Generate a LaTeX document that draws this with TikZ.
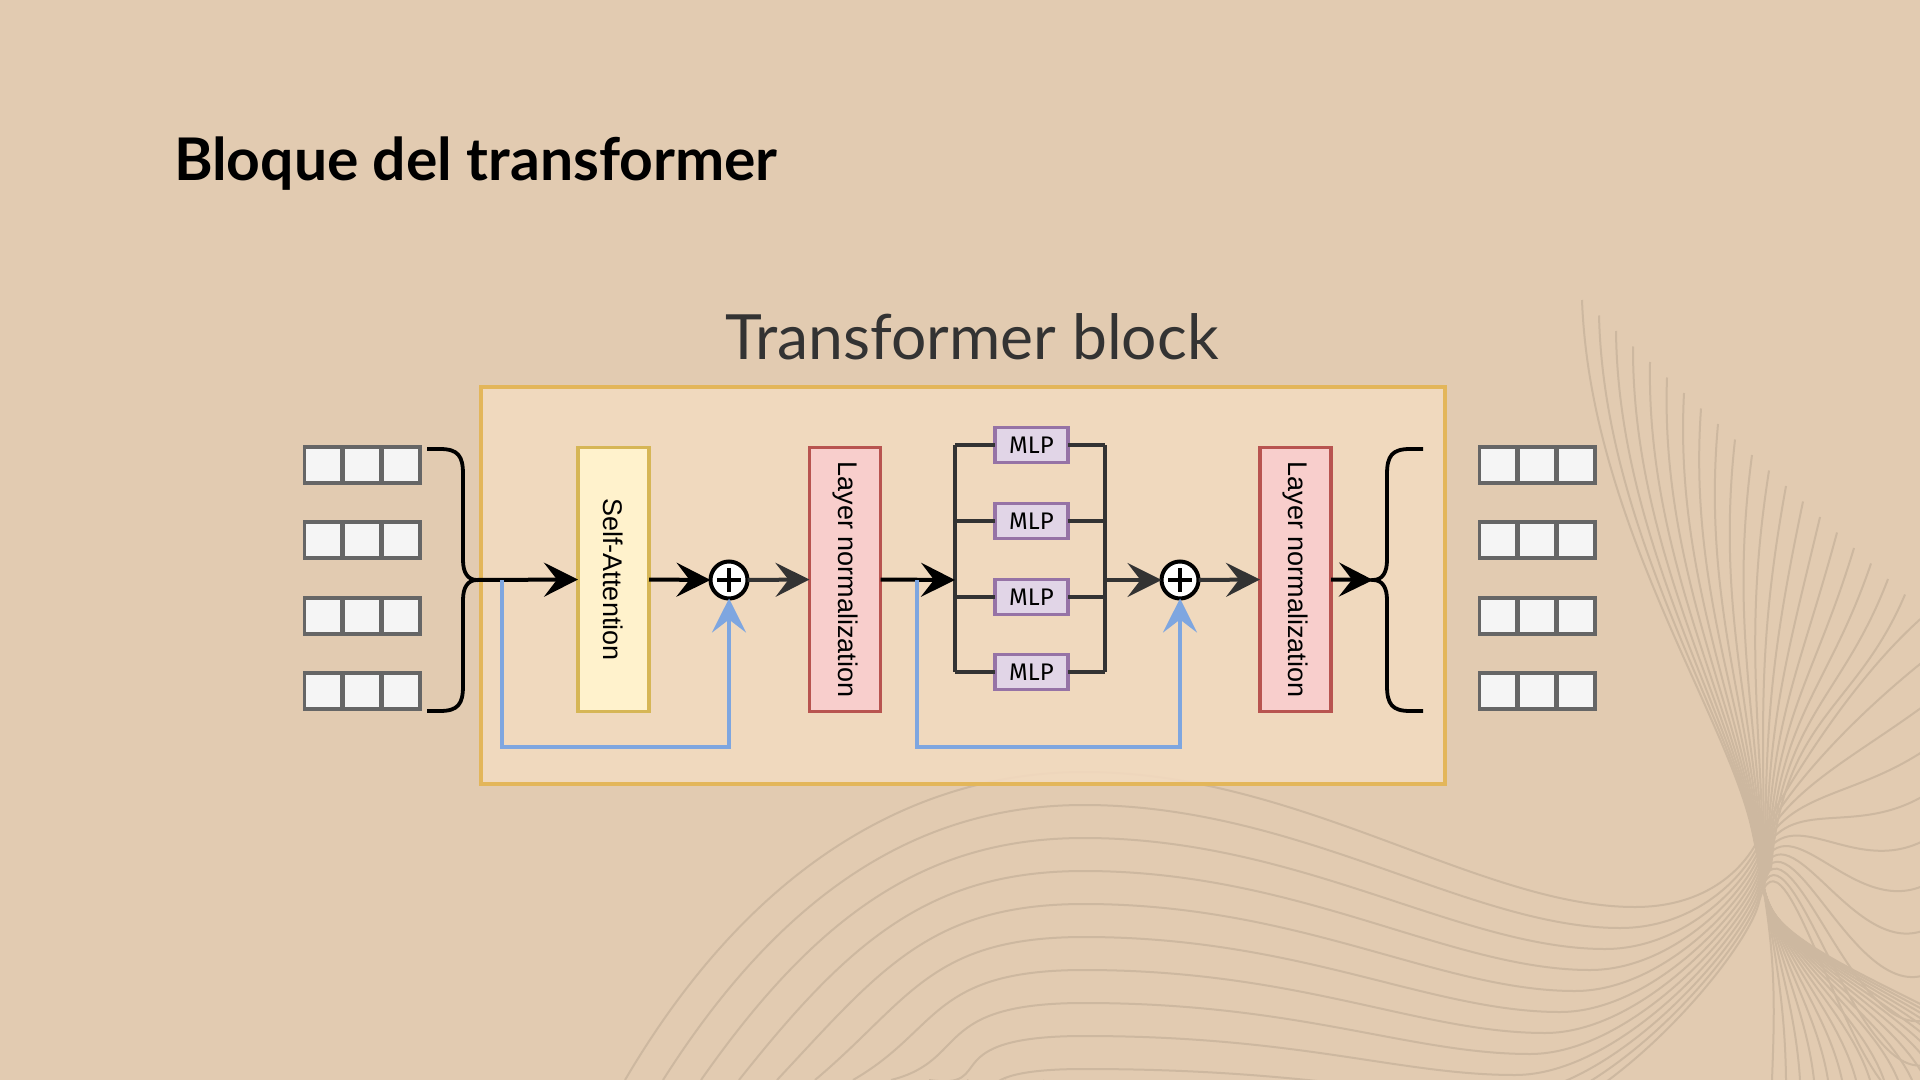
\documentclass[tikz,border=0pt]{standalone}
\usepackage{fontspec}
\setmainfont{Liberation Sans}
\newfontfamily\headfont{Lato}
\newfontfamily\mlpfont{Fira Sans}
\usetikzlibrary{arrows.meta}
\definecolor{bgcolor}{HTML}{E2CBB1}
\definecolor{blockfill}{HTML}{F3DBC0}
\definecolor{blockline}{HTML}{E3B65A}

\begin{document}
\begin{tikzpicture}[x=0.5pt, y=-0.5pt, every node/.style={inner sep=0pt, outer sep=0pt},
    cell/.style={draw=cellline, fill=cellfill, line width=1.9pt, minimum width=18.9pt, minimum height=17.75pt},
    layer/.style={line width=1.9pt, minimum width=35.5pt, minimum height=132pt, font=\fontsize{13.5}{16}\selectfont},
    mlpbox/.style={draw=mlpline, fill=mlpfill, line width=1.9pt, minimum width=36.5pt, minimum height=17.5pt, font=\mlpfont\fontsize{12}{14}\selectfont},
    addnode/.style={circle, draw=black, fill=white, line width=2pt, minimum size=18.5pt},
    link/.style={line width=2pt, -{Stealth[length=17pt, width=17pt, inset=6.5pt]}},
    skip/.style={color=skipblue, line width=1.9pt, -{Stealth[length=17pt, width=17pt, inset=6.5pt]}},
    bar/.style={draw=bargray, line width=1.9pt},
    brace/.style={draw=black, line width=1.9pt},
    wave/.style={draw=wavecolor, line width=1pt}]
    \definecolor{cellfill}{HTML}{F5F5F5}
    \definecolor{cellline}{HTML}{666666}
    \definecolor{safill}{HTML}{FFF2CC}
    \definecolor{saline}{HTML}{D6B656}
    \definecolor{lnfill}{HTML}{F8CECC}
    \definecolor{lnline}{HTML}{B85450}
    \definecolor{mlpfill}{HTML}{E1D5E7}
    \definecolor{mlpline}{HTML}{9673A6}
    \definecolor{skipblue}{HTML}{7EA6E0}
    \definecolor{arrowgray}{HTML}{333333}
    \definecolor{bargray}{HTML}{333333}
    \definecolor{wavecolor}{HTML}{CDB8A0}

    \useasboundingbox (0,0) rectangle (1920,1080);
    \fill[bgcolor] (0,0) rectangle (1920,1080);

    % background waves
    \begin{scope}
        \clip (0,0) rectangle (1920,1080);
        \foreach \i in {0,...,19}
            \draw[wave] (1582+17*\i,300+15.5*\i) .. controls (1590+14*\i,520+10*\i) and (1727+3*\i,716) .. (1752+\i,830+2*\i) .. controls (1777-3*\i,944) and (1775+10*\i,1000) .. (1772+14*\i,1080);
        \foreach \k in {0,...,11}
            \draw[wave] (625+38*\k,1080) .. controls (760+30*\k,850+30*\k) and (930,772+33*\k) .. (1084,772+33*\k) .. controls (1300,772+33*\k) and (1480-10*\k,907+21*\k) .. (1635-15*\k,907+21*\k) .. controls (1700-10*\k,907+21*\k) and (1740,875+8*\k) .. (1758,840+6*\k) .. controls (1785,790) and (1850,680+40*\k) .. (1925,615+45*\k);
    \end{scope}

    \node[anchor=base west, font=\headfont\bfseries\fontsize{29.4}{36}\selectfont] (heading) at (174,181) {Bloque del transformer};
    \node[anchor=base, text=arrowgray, font=\headfont\fontsize{31.2}{36}\selectfont] (blocklabel) at (972,359) {Transformer block};

    \node[draw=blockline, fill=blockfill, fill opacity=0.88, line width=1.9pt, minimum width=482pt, minimum height=198.5pt] (block) at (963,585.5) {};

    % tokens
    \foreach \r/\y in {1/465,2/540,3/616,4/691}{
        \foreach \c/\x in {a/323.3,b/362,c/400.7}{
            \node[cell] (in-\r-\c) at (\x,\y) {};
            \node[cell] (out-\r-\c) at (\x+1175,\y) {};
        }
    }

    \coordinate (inbrace) at (477,580);
    \coordinate (outbrace) at (1373,580);
    \draw[brace] (427,449) -- (440,449) .. controls (458,449) and (463,456) .. (463,474) -- (463,560) .. controls (463,573) and (468,580) .. (inbrace) .. controls (468,580) and (463,587) .. (463,600) -- (463,686) .. controls (463,704) and (458,711) .. (440,711) -- (427,711);
    \draw[brace] (1423,449) -- (1410,449) .. controls (1392,449) and (1387,456) .. (1387,474) -- (1387,560) .. controls (1387,573) and (1382,580) .. (outbrace) .. controls (1382,580) and (1387,587) .. (1387,600) -- (1387,686) .. controls (1387,704) and (1392,711) .. (1410,711) -- (1423,711);

    \node[layer, draw=saline, fill=safill] (sa) at (613.5,579.5) {\rotatebox{-90}{Self-Attention}};
    \node[layer, draw=lnline, fill=lnfill] (ln1) at (845,579.5) {\rotatebox{-90}{Layer normalization}};
    \node[layer, draw=lnline, fill=lnfill] (ln2) at (1295.5,579.5) {\rotatebox{-90}{Layer normalization}};

    \node[addnode] (add1) at (729,580) {};
    \node[addnode] (add2) at (1180,580) {};
    \foreach \a in {add1,add2}{
        \draw[line width=1.9pt] ([xshift=-5.8pt]\a.center) -- ([xshift=5.8pt]\a.center);
        \draw[line width=1.9pt] ([yshift=-5.8pt]\a.center) -- ([yshift=5.8pt]\a.center);
    }

    % MLP bank
    \coordinate (mlpin) at (955,580);
    \coordinate (mlpout) at (1105,580);
    \foreach \i/\y in {1/445,2/521,3/597,4/672}
        \node[mlpbox] (mlp\i) at (1031.5,\y) {MLP};
    \draw[bar] (mlp1.west -| mlpin) -- (mlp4.west -| mlpin);
    \draw[bar] (mlp1.east -| mlpout) -- (mlp4.east -| mlpout);
    \foreach \i in {1,...,4}{
        \draw[bar] (mlp\i.west -| mlpin) -- (mlp\i.west);
        \draw[bar] (mlp\i.east) -- (mlp\i.east -| mlpout);
    }

    \coordinate (tap1) at (502,580);
    \coordinate (tap2) at (917,580);

    \draw[link] (inbrace) -- (sa.west);
    \draw[link] (sa.east) -- (add1.west);
    \draw[link, color=arrowgray] (add1.east) -- (ln1.west);
    \draw[link] (ln1.east) -- (mlpin);
    \draw[link, color=arrowgray] (mlpout) -- (add2.west);
    \draw[link, color=arrowgray] (add2.east) -- (ln2.west);
    \draw[link] (ln2.east) -- (outbrace);

    \draw[skip] (tap1) -- ++(0,167) -| (add1.south);
    \draw[skip] (tap2) -- ++(0,167) -| (add2.south);

\end{tikzpicture}
\end{document}
